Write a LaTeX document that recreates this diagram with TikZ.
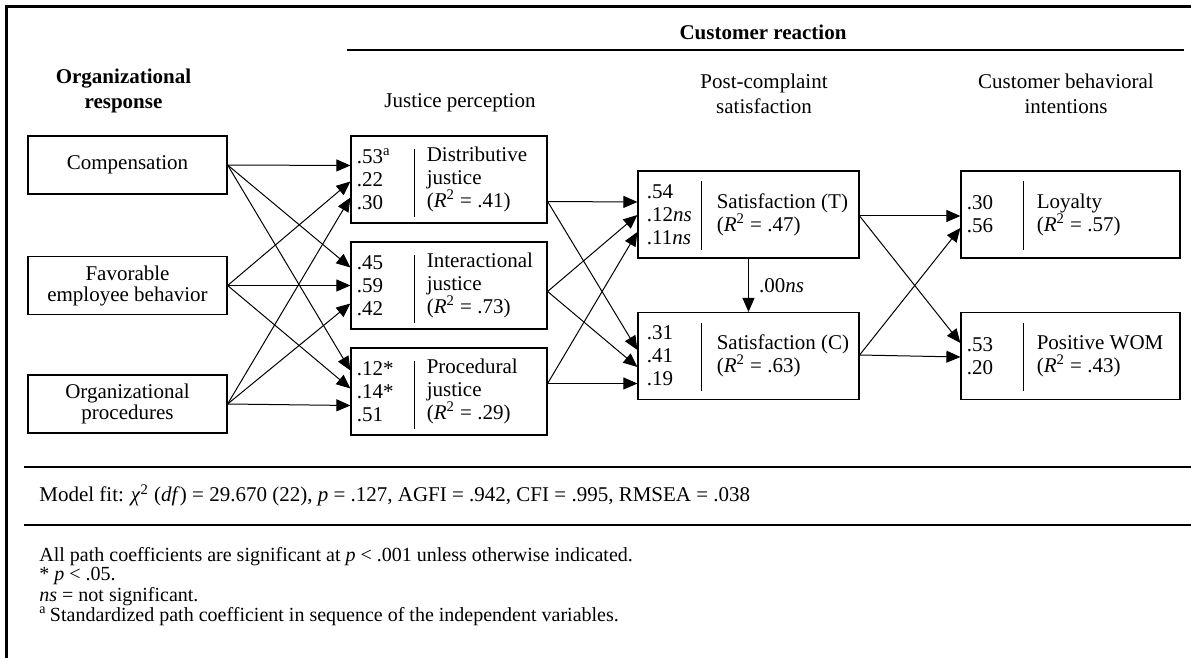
\documentclass[tikz,border=0pt]{standalone}
\usepackage{fontspec}
\setmainfont{Liberation Serif}
\usetikzlibrary{arrows.meta,calc}

\begin{document}
\begin{tikzpicture}[x=0.5pt, y=-0.5pt,
      every node/.append style={inner sep=0pt, font=\fontsize{10.5}{11.5}\selectfont},
      var/.style={draw, line width=0.6pt, minimum width=99.5pt, minimum height=29pt, align=center,
        font=\fontsize{10.5}{10.5}\selectfont},
      jbox/.style={draw, line width=0.6pt, minimum width=98pt, minimum height=43.5pt},
      sbox/.style={draw, line width=0.6pt, minimum width=110.5pt, minimum height=43.5pt},
      obox/.style={sbox, minimum width=109.5pt},
      coef/.style={anchor=west, align=left},
      divider/.style={line width=0.6pt},
      head/.style={align=center, font=\fontsize{10.5}{12.5}\selectfont},
      bold/.style={font=\fontsize{10.5}{12.5}\selectfont\bfseries},
      note/.style={anchor=base west, font=\fontsize{10}{10}\selectfont},
      rule/.style={line width=0.8pt},
      link/.style={-{Triangle[length=7pt,width=6pt]}, line width=0.5pt}]
    \useasboundingbox (0,0) rectangle (1191,658);
    \draw[line width=1.5pt] (6.5,658) -- (6.5,6.5) -- (1191,6.5);
    \draw[line width=0.7pt] (347,50) -- (1184,50);
    \draw[rule] (24,467) -- (1191,467);
    \draw[rule] (24,525) -- (1191,525);

    \node (custreact) [bold, anchor=base] at (763,40) {Customer reaction};
    \node (orgresp) [bold, align=center] at (123.5,90.5) {Organizational\\response};
    \node (justhead) [anchor=base] at (460,108) {Justice perception};
    \node (sathead) [head] at (764,94.3) {Post-complaint\\satisfaction};
    \node (inthead) [head] at (1066,94.3) {Customer behavioral\\intentions};

    \node[var] (comp) at (127.5,165) {Compensation};
    \node[var] (fav) at (127.5,285.5) {Favorable\\employee behavior};
    \node[var] (orgp) at (127.5,404) {Organizational\\procedures};

    \node[jbox] (dist) at (449,179.5) {};
    \node[coef] (distC) at ($(dist.west)+(6,0)$) {.53\textsuperscript{a}\\.22\\.30};
    \node[coef] (distL) at ($(dist.west)+(76,0)$) {Distributive\\justice\\(\textit{R}\textsuperscript{2} = .41)};
    \draw[divider] ($(dist.north west)+(64,14)$) -- ($(dist.south west)+(64,-7)$);

    \node[jbox] (inter) at (449,285.5) {};
    \node[coef] (interC) at ($(inter.west)+(6,0)$) {.45\\.59\\.42};
    \node[coef] (interL) at ($(inter.west)+(76,0)$) {Interactional\\justice\\(\textit{R}\textsuperscript{2} = .73)};
    \draw[divider] ($(inter.north west)+(64,14)$) -- ($(inter.south west)+(64,-7)$);

    \node[jbox] (proc) at (449,391.5) {};
    \node[coef] (procC) at ($(proc.west)+(6,0)$) {.12*\\.14*\\.51};
    \node[coef] (procL) at ($(proc.west)+(76,0)$) {Procedural\\justice\\(\textit{R}\textsuperscript{2} = .29)};
    \draw[divider] ($(proc.north west)+(64,14)$) -- ($(proc.south west)+(64,-7)$);

    \node[sbox] (satT) at (748.5,214.5) {};
    \node[coef] (satTC) at ($(satT.west)+(9,0)$) {.54\\.12\textit{ns}\\.11\textit{ns}};
    \node[coef] (satTL) at ($(satT.west)+(79,0)$) {Satisfaction (T)\\(\textit{R}\textsuperscript{2} = .47)};
    \draw[divider] ($(satT.north west)+(64,11)$) -- ($(satT.south west)+(64,-9)$);

    \node[sbox] (satC) at (748.5,356) {};
    \node[coef] (satCC) at ($(satC.west)+(9,0)$) {.31\\.41\\.19};
    \node[coef] (satCL) at ($(satC.west)+(79,0)$) {Satisfaction (C)\\(\textit{R}\textsuperscript{2} = .63)};
    \draw[divider] ($(satC.north west)+(64,11)$) -- ($(satC.south west)+(64,-9)$);

    \node[obox] (loyal) at (1070.5,214.5) {};
    \node[coef] (loyalC) at ($(loyal.west)+(6,0)$) {.30\\.56};
    \node[coef] (loyalL) at ($(loyal.west)+(76,0)$) {Loyalty\\(\textit{R}\textsuperscript{2} = .57)};
    \draw[divider] ($(loyal.north west)+(63,11)$) -- ($(loyal.south west)+(63,-9)$);

    \node[obox] (wom) at (1070.5,356) {};
    \node[coef] (womC) at ($(wom.west)+(6,0)$) {.53\\.20};
    \node[coef] (womL) at ($(wom.west)+(76,0)$) {Positive WOM\\(\textit{R}\textsuperscript{2} = .43)};
    \draw[divider] ($(wom.north west)+(63,11)$) -- ($(wom.south west)+(63,-9)$);

    \draw[link] (comp.east) -- ($(dist.west)+(0,-14)$);
    \draw[link] (fav.east) -- ($(dist.west)+(0,2)$);
    \draw[link] (orgp.east) -- ($(dist.west)+(0,18)$);
    \draw[link] (comp.east) -- ($(inter.west)+(0,-18)$);
    \draw[link] (fav.east) -- (inter.west);
    \draw[link] (orgp.east) -- ($(inter.west)+(0,18)$);
    \draw[link] (comp.east) -- ($(proc.west)+(0,-21)$);
    \draw[link] (fav.east) -- ($(proc.west)+(0,-3)$);
    \draw[link] (orgp.east) -- ($(proc.west)+(0,14)$);

    \draw[link] ($(dist.east)+(0,22)$) -- ($(satT.west)+(0,-12.5)$);
    \draw[link] ($(inter.east)+(0,6)$) -- ($(satT.west)+(0,0.5)$);
    \draw[link] ($(proc.east)+(0,-8)$) -- ($(satT.west)+(0,17.5)$);
    \draw[link] ($(dist.east)+(0,22)$) -- ($(satC.west)+(0,-6)$);
    \draw[link] ($(inter.east)+(0,6)$) -- ($(satC.west)+(0,11)$);
    \draw[link] ($(proc.east)+(0,-8)$) -- ($(satC.west)+(0,27.5)$);

    \draw[link] (satT.south) -- node[anchor=west, xshift=5pt] (zero) {.00\textit{ns}} (satC.north);

    \draw[link] ($(satT.east)+(0,1.5)$) -- ($(loyal.west)+(0,1.5)$);
    \draw[link] ($(satC.east)+(0,-1)$) -- ($(loyal.west)+(0,13.5)$);
    \draw[link] ($(satT.east)+(0,1.5)$) -- ($(wom.west)+(0,-13)$);
    \draw[link] ($(satC.east)+(0,-1)$) -- ($(wom.west)+(0,1)$);

    \node (fit) [anchor=base west] at (39,502) {Model fit: \textit{χ}\textsuperscript{2} (\textit{df}) = 29.670 (22), \textit{p} = .127, AGFI = .942, CFI = .995, RMSEA = .038};
    \node (note1) [note] at (39,561) {All path coefficients are significant at \textit{p} < .001 unless otherwise indicated.};
    \node (note2) [note] at (39,581) {* \textit{p} < .05.};
    \node (note3) [note] at (39,601) {\textit{ns} = not significant.};
    \node (note4) [note] at (39,621) {\textsuperscript{a}\,Standardized path coefficient in sequence of the independent variables.};
\end{tikzpicture}
\end{document}
